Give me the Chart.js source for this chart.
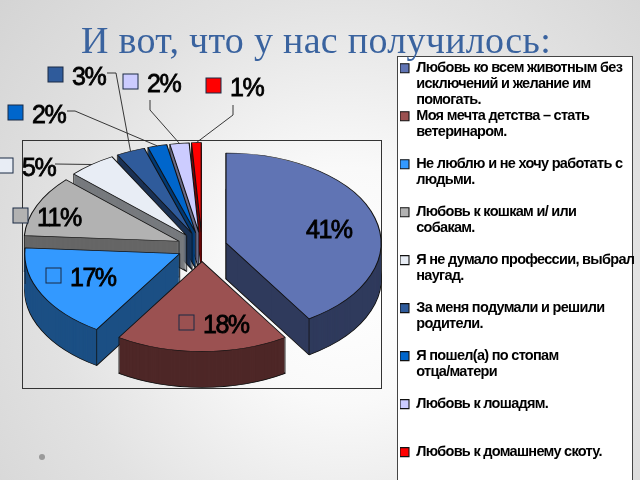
<!DOCTYPE html>
<html>
<head>
<meta charset="utf-8">
<script src="https://cdn.jsdelivr.net/npm/chart.js@4"></script>
<style>
html,body{margin:0;padding:0;width:640px;height:480px;overflow:hidden}
body{position:relative;background:radial-gradient(circle 470px at 345px 285px,#ffffff 0,#f9f9f9 25%,#e2e2e2 62%,#d2d2d2 100%)}
#frame{position:absolute;left:22px;top:140px;width:358px;height:247px;border:1px solid #333}
#panel{position:absolute;left:397px;top:56px;width:234px;height:440px;background:#fff;border:1px solid #444}
#dot{position:absolute;left:39px;top:454px;width:6px;height:6px;border-radius:50%;background:#9a9a9a}
#wrap{position:absolute;left:0;top:0;width:640px;height:480px}
</style>
</head>
<body>
<div id="frame"></div><div id="panel"></div><div id="dot"></div>
<div id="wrap"><canvas id="c" width="640" height="480"></canvas></div>
<script>
const titleText = 'И вот, что у нас получилось:';
const categories = [
  ['Любовь ко всем животным без','исключений и желание им','помогать.'],
  ['Моя мечта детства – стать','ветеринаром.',''],
  ['Не люблю и не хочу работать с','людьми.',''],
  ['Любовь к кошкам и/ или','собакам.',''],
  ['Я не думало профессии, выбрал','наугад.',''],
  ['За меня подумали и решили','родители.',''],
  ['Я пошел(а) по стопам','отца/матери',''],
  ['Любовь к лошадям.','',''],
  ['Любовь к домашнему скоту.']
];
const values = [41, 18, 17, 11, 5, 3, 2, 2, 1];
const sliceColors = ['#6074b4','#9b5151','#3399ff','#b2b2b2','#e8edf5','#2f5b9b','#0066cc','#ccccff','#ff0000'];
const wallColors  = ['#2f3a5c','#4e2727','#1b4f84','#666666','#777a7e','#1a3154','#003a75','#6b6b88','#800000'];
const labelX = [306, 203, 70, 37, 22, 72, 32, 147, 230];
const labelY = [231, 326, 279, 219, 169, 78, 116, 85, 89];
const drawOrder = [8, 7, 6, 5, 4, 3, 0, 2, 1];

const PIE = {cx: 202, cy: 247, r: 155, squash: 0.58, explode: 25, depth: 36};
const leaders = {
  4: [[55,164]],
  5: [[107,73],[116,73]],
  6: [[67,111],[75,111]],
  7: [[150,100],[150,110]],
  8: [[233,105],[233,115]]
};

function placeSlice(ctx, el, lift) {
  const mid = (el.startAngle + el.endAngle) / 2;
  const dx = Math.cos(mid) * PIE.explode;
  const dy = Math.sin(mid) * PIE.explode * PIE.squash;
  ctx.translate(PIE.cx + dx, PIE.cy + dy + lift);
  ctx.scale(1, PIE.squash);
  ctx.translate(-el.x, -el.y);
}
function rimPoint(el, ang) {
  const mid = (el.startAngle + el.endAngle) / 2;
  return [
    PIE.cx + Math.cos(mid) * PIE.explode + Math.cos(ang) * PIE.r,
    PIE.cy + (Math.sin(mid) * PIE.explode + Math.sin(ang) * PIE.r) * PIE.squash
  ];
}

const pie3d = {
  id: 'pie3d',
  afterLayout(chart) {
    const lg = chart.legend;
    const w = lg.width;
    lg.left = 400; lg.right = 400 + w;
    lg.top = 61; lg.bottom = 480;
    const tb = chart.titleBlock;
    if (!tb.__spaced) {
      const drawTitle = tb.draw;
      tb.draw = function () {
        const ctx = chart.ctx;
        ctx.save();
        ctx.letterSpacing = '0.3px';
        ctx.translate(-4, 0);
        drawTitle.apply(tb, arguments);
        ctx.restore();
        ctx.letterSpacing = '-0.7px';
      };
      tb.__spaced = true;
    }
  },
  beforeDraw(chart) { chart.ctx.letterSpacing = '-0.7px'; },
  beforeDatasetsDraw(chart) {
    const ctx = chart.ctx;
    const arcs = chart.getDatasetMeta(0).data;
    ctx.letterSpacing = '0px';
    drawOrder.forEach(i => {
      const el = arcs[i];
      const base = el.options;
      const mid = (el.startAngle + el.endAngle) / 2;
      // bottom outline first, then the library's arc repeated upward as the wall
      el.options = Object.assign({}, base, {backgroundColor: wallColors[i], borderColor: '#111', borderWidth: 1.2});
      ctx.save(); placeSlice(ctx, el, PIE.depth); el.draw(ctx); ctx.restore();
      el.options = Object.assign({}, base, {backgroundColor: wallColors[i], borderColor: wallColors[i], borderWidth: 0});
      for (let k = PIE.depth - 1; k >= 1; k--) {
        ctx.save(); placeSlice(ctx, el, k); el.draw(ctx); ctx.restore();
      }
      // wall corners
      const apex = [PIE.cx + Math.cos(mid) * PIE.explode, PIE.cy + Math.sin(mid) * PIE.explode * PIE.squash];
      ctx.save();
      ctx.strokeStyle = '#111'; ctx.lineWidth = 0.8;
      [apex, rimPoint(el, el.startAngle), rimPoint(el, el.endAngle)].forEach(p => {
        ctx.beginPath(); ctx.moveTo(p[0], p[1]); ctx.lineTo(p[0], p[1] + PIE.depth); ctx.stroke();
      });
      ctx.restore();
      el.options = base;
      ctx.save(); placeSlice(ctx, el, 0); el.draw(ctx); ctx.restore();
    });
    return false;
  },
  afterDraw(chart) {
    const ctx = chart.ctx;
    const arcs = chart.getDatasetMeta(0).data;
    ctx.save();
    ctx.letterSpacing = '0px';
    ctx.strokeStyle = '#222'; ctx.lineWidth = 0.9;
    Object.keys(leaders).forEach(k => {
      const el = arcs[k];
      const end = rimPoint(el, (el.startAngle + el.endAngle) / 2);
      const pts = leaders[k].concat([end]);
      ctx.beginPath();
      pts.forEach((p, j) => j ? ctx.lineTo(p[0], p[1]) : ctx.moveTo(p[0], p[1]));
      ctx.stroke();
    });
    values.forEach((v, i) => {
      const x = labelX[i], y = labelY[i];
      if (i > 0) {
        ctx.fillStyle = sliceColors[i];
        ctx.strokeStyle = '#1a2a44';
        ctx.lineWidth = 1;
        ctx.fillRect(x - 24, y - 11, 15, 15);
        ctx.strokeRect(x - 24, y - 11, 15, 15);
      }
      ctx.font = '25px "Liberation Sans"';
      ctx.letterSpacing = '-1.5px';
      ctx.textAlign = 'left';
      ctx.textBaseline = 'middle';
      ctx.fillStyle = '#000';
      ctx.strokeStyle = '#000';
      ctx.lineWidth = 0.8;
      ctx.fillText(v + '%', x, y);
      ctx.strokeText(v + '%', x, y);
      ctx.letterSpacing = '0px';
    });
    ctx.restore();
  }
};

new Chart(document.getElementById('c'), {
  type: 'pie',
  data: {
    labels: categories,
    datasets: [{
      data: values,
      backgroundColor: sliceColors,
      borderColor: '#111',
      borderWidth: 1.1
    }]
  },
  options: {
    responsive: false,
    animation: false,
    events: [],
    radius: PIE.r,
    rotation: 0,
    plugins: {
      tooltip: {enabled: false},
      title: {
        display: true,
        text: titleText,
        color: '#3a639f',
        align: 'center',
        font: {family: '"Liberation Serif"', size: 38, weight: 'normal', lineHeight: 1.2},
        padding: {top: 20, bottom: 0}
      },
      legend: {
        display: true,
        position: 'right',
        align: 'start',
        labels: {
          boxWidth: 9,
          boxHeight: 9,
          padding: 0,
          color: '#000',
          font: {family: '"Liberation Sans"', size: 14.5, weight: 'bold', lineHeight: 1.103}
        }
      }
    }
  },
  plugins: [pie3d]
});
</script>
</body>
</html>
